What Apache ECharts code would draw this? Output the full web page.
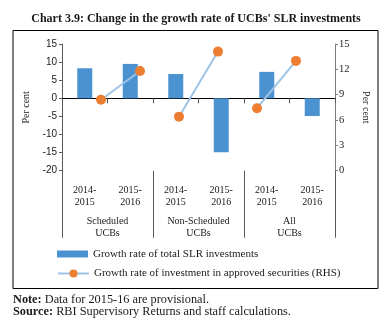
<!DOCTYPE html>
<html>
<head>
<meta charset="utf-8">
<script src="https://cdn.jsdelivr.net/npm/echarts@6/dist/echarts.min.js"></script>
<style>html,body{margin:0;padding:0;background:#fff}#c{width:392px;height:330px}</style>
</head>
<body>
<div id="c"></div>
<script>
const periods = ['2014-\n2015', '2015-\n2016', '2014-\n2015', '2015-\n2016', '2014-\n2015', '2015-\n2016'];
const groups = ['Scheduled\nUCBs', 'Non-Scheduled\nUCBs', 'All\nUCBs'];
const slrGrowth = [8.3, 9.5, 6.7, -14.9, 7.3, -4.9];
const approvedGrowth = [8.4, 11.8, 6.4, 14.1, 7.4, 13.0];
const leftTicks = { min: -20, max: 15, interval: 5 };
const rightTicks = { min: 0, max: 15, interval: 3 };
const barName = 'Growth rate of total SLR investments';
const lineName = 'Growth rate of investment in approved securities (RHS)';

const serif = 'Liberation Serif';
const sans = 'Liberation Sans';

// line x-slots: 8 slots (0..7), points sit at slots 1..6
const slots = ['s0', 's1', 's2', 's3', 's4', 's5', 's6', 's7'];
function segment(g) {
  const arr = slots.map(() => null);
  arr[1 + 2 * g] = approvedGrowth[2 * g];
  arr[2 + 2 * g] = approvedGrowth[2 * g + 1];
  return arr;
}

const chart = echarts.init(document.getElementById('c'), null, { renderer: 'canvas' });
const lineSeries = [0, 1, 2].map(g => ({
  name: lineName,
  type: 'line',
  xAxisIndex: 3,
  yAxisIndex: 1,
  data: segment(g),
  connectNulls: false,
  symbol: 'circle',
  symbolSize: 10,
  lineStyle: { color: '#9DC3E6', width: 2 },
  itemStyle: { color: '#ED7D31', borderWidth: 0 },
  z: 5
}));

chart.setOption({
  animation: false,
  textStyle: { fontFamily: serif },
  title: [
    { text: "Chart 3.9: Change in the growth rate of UCBs' SLR investments", left: 'center', top: 8,
      textStyle: { fontFamily: serif, fontWeight: 'bold', fontSize: 12, color: '#1a1a1a' } },
    { text: '{b|Note:} {n|Data for 2015-16 are provisional.}\n{b|Source:} {n|RBI Supervisory Returns and staff calculations.}',
      left: 13, top: 293.3, padding: 0,
      textStyle: { fontFamily: serif, fontSize: 12.3, fontWeight: 'normal', color: '#1a1a1a', lineHeight: 12.5,
        rich: {
          b: { fontFamily: serif, fontWeight: 'bold', fontSize: 12.3, color: '#1a1a1a', lineHeight: 12.5 },
          n: { fontFamily: serif, fontWeight: 'normal', fontSize: 12.3, color: '#1a1a1a', lineHeight: 12.5 }
        } } }
  ],
  grid: { left: 62, right: 57, top: 44, bottom: 159.3 },
  legend: [
    { data: [{ name: barName, icon: 'rect' }], left: 57, top: 248.5, padding: 0, itemWidth: 31, itemHeight: 7,
      textStyle: { fontFamily: serif, fontSize: 11, color: '#1a1a1a' }, selectedMode: false },
    { data: [{ name: lineName }], left: 57, top: 268, padding: 0, itemWidth: 31, itemHeight: 10,
      textStyle: { fontFamily: serif, fontSize: 11, color: '#1a1a1a' }, selectedMode: false }
  ],
  xAxis: [
    { type: 'category', data: periods, position: 'bottom',
      axisLine: { onZero: true, onZeroAxisIndex: 0, lineStyle: { color: '#000', width: 1 } },
      axisTick: { show: true, length: 5, lineStyle: { color: '#595959' } },
      axisLabel: { show: false }, splitLine: { show: false } },
    { type: 'category', data: periods, position: 'bottom',
      axisLine: { show: false, onZero: false }, axisTick: { show: false },
      axisLabel: { show: true, margin: 13, fontFamily: serif, fontSize: 10, color: '#1a1a1a', lineHeight: 12.5 } },
    { type: 'category', data: groups, position: 'bottom',
      axisLine: { show: false, onZero: false },
      axisTick: { show: true, length: 67, lineStyle: { color: '#595959' } },
      axisLabel: { show: true, margin: 44, fontFamily: serif, fontSize: 10, color: '#1a1a1a', lineHeight: 12.5 } },
    { type: 'category', data: slots, boundaryGap: false, show: false }
  ],
  yAxis: [
    { type: 'value', position: 'left', min: leftTicks.min, max: leftTicks.max, interval: leftTicks.interval,
      name: 'Per cent', nameLocation: 'middle', nameRotate: 90, nameGap: 26,
      nameTextStyle: { fontFamily: serif, fontSize: 10, color: '#1a1a1a' },
      axisLine: { show: true, lineStyle: { color: '#595959' } },
      axisTick: { show: true, length: 3, lineStyle: { color: '#595959' } },
      axisLabel: { fontFamily: sans, fontSize: 10, color: '#1a1a1a', margin: 5 },
      splitLine: { show: false } },
    { type: 'value', position: 'right', min: rightTicks.min, max: rightTicks.max, interval: rightTicks.interval,
      name: 'Per cent', nameLocation: 'middle', nameRotate: -90, nameGap: 20,
      nameTextStyle: { fontFamily: serif, fontSize: 10, color: '#1a1a1a' },
      axisLine: { show: true, lineStyle: { color: '#7f7f7f' } },
      axisTick: { show: true, length: 3, lineStyle: { color: '#7f7f7f' } },
      axisLabel: { fontFamily: serif, fontSize: 10.5, color: '#1a1a1a', margin: 4 },
      splitLine: { show: false } }
  ],
  series: [
    { name: barName, type: 'bar', xAxisIndex: 0, yAxisIndex: 0, data: slrGrowth,
      barWidth: 15, itemStyle: { color: '#4A93D0' }, z: 2 },
    ...lineSeries
  ],
  graphic: [
    { type: 'rect', shape: { x: 13, y: 30.5, width: 365, height: 258 },
      style: { fill: 'none', stroke: '#000', lineWidth: 1 }, silent: true, z: -1 }
  ]
});
</script>
</body>
</html>
